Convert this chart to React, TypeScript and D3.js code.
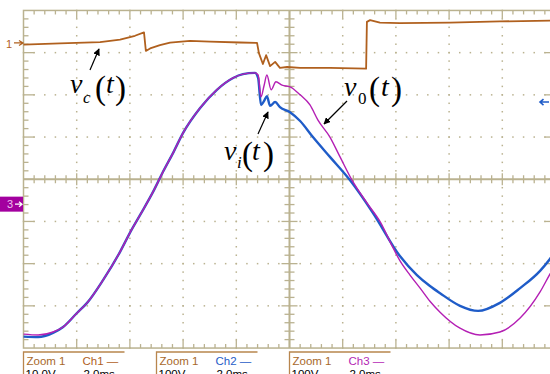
import * as d3 from "d3"
import { useEffect, useRef } from "react"

// Scope screen: 10 x 8 divisions, 2.0 ms/div. Traces are in screen divisions (+4 top, -4 bottom)
const timeDomain = [0, 20]
const divDomain = [-4, 4]

// Ch1 - v_c(t)
const vcTime = [0, 1.37, 2.88, 3.63, 4.19, 4.53, 4.6, 4.76, 5.13, 5.51, 6.26, 7.01, 8.14, 8.78, 8.85, 9.0, 9.12, 9.27, 9.46, 9.64, 9.91, 10.4, 11.52, 12.88, 12.91, 13.03, 13.4, 14.15, 16.03, 17.91, 20]
const vcDiv = [3.19, 3.22, 3.25, 3.31, 3.4, 3.48, 3.04, 3.1, 3.18, 3.24, 3.28, 3.26, 3.24, 3.23, 2.99, 2.73, 2.94, 2.68, 2.78, 2.64, 2.66, 2.64, 2.64, 2.62, 3.73, 3.77, 3.71, 3.7, 3.71, 3.74, 3.76]

// Ch2 - v_i(t)
const viTime = [0, 0.55, 1.11, 1.49, 2.01, 2.39, 2.99, 3.63, 4.0, 4.38, 4.87, 5.24, 5.62, 6.0, 6.64, 7.27, 7.88, 8.25, 8.7, 8.82, 8.93, 9.04, 9.15, 9.27, 9.46, 9.64, 10.02, 10.4, 10.88, 11.52, 12.27, 13.14, 14.15, 14.79, 15.28, 15.66, 16.41, 17.09, 17.91, 18.67, 19.42, 19.79, 20]
const viDiv = [-3.73, -3.74, -3.64, -3.5, -3.17, -2.93, -2.39, -1.72, -1.27, -0.85, -0.3, 0.17, 0.62, 1.1, 1.69, 2.12, 2.4, 2.49, 2.52, 2.4, 1.76, 1.85, 1.97, 1.74, 1.83, 1.71, 1.59, 1.38, 1.0, 0.53, -0.02, -0.8, -1.82, -2.27, -2.53, -2.7, -3.0, -3.12, -2.93, -2.58, -2.17, -1.89, -1.7]

// Ch3 - v_0(t)
const voTime = [0, 0.55, 1.11, 1.49, 2.01, 2.39, 2.99, 3.63, 4.0, 4.38, 4.87, 5.24, 5.62, 6.0, 6.64, 7.27, 7.88, 8.25, 8.7, 8.82, 8.93, 9.04, 9.15, 9.31, 9.49, 9.72, 10.02, 10.4, 10.77, 11.07, 11.52, 11.9, 12.35, 12.91, 13.4, 13.89, 14.15, 14.53, 14.91, 15.28, 15.66, 16.41, 17.16, 17.91, 18.67, 19.42, 19.79, 20]
const voDiv = [-3.67, -3.69, -3.62, -3.5, -3.17, -2.93, -2.39, -1.72, -1.27, -0.85, -0.3, 0.17, 0.62, 1.1, 1.69, 2.12, 2.4, 2.49, 2.52, 2.47, 1.95, 2.21, 2.47, 2.12, 2.31, 2.23, 2.19, 2.0, 1.76, 1.4, 1.0, 0.53, -0.02, -0.56, -1.0, -1.62, -1.93, -2.27, -2.58, -2.89, -3.15, -3.53, -3.69, -3.62, -3.29, -2.67, -2.25, -2.03]

// readout boxes under the screen
const readoutStart = [0, 5, 10] // ms
const readoutChannel = ["Ch1 —", "Ch2 —", "Ch3 —"]
const readoutVolts = ["10.0V", "100V", "100V"]
const readoutTime = ["2.0ms", "2.0ms", "2.0ms"]

const ch1Color = "#b0601e"
const ch2Color = "#1f5cc8"
const ch3Color = "#b41fb4"
const gridColor = "#bab290"

const App = () => {
  const svgRef = useRef<SVGSVGElement | null>(null)

  useEffect(() => {
    if (!svgRef.current) return
    const svg = d3.select(svgRef.current)
    svg.selectAll("*").remove()

    const left = 23.5
    const right = 555.5
    const top = 10.45
    const bottom = 348.05

    const x = d3.scaleLinear().domain(timeDomain).range([left, right])
    const y = d3.scaleLinear().domain(divDomain).range([bottom, top])

    svg.append("rect").attr("width", 550).attr("height", 374).attr("fill", "#fff")

    const defs = svg.append("defs")
    defs
      .append("marker")
      .attr("id", "head")
      .attr("viewBox", "0 0 10 10")
      .attr("refX", 9)
      .attr("refY", 5)
      .attr("markerWidth", 7)
      .attr("markerHeight", 7)
      .attr("markerUnits", "userSpaceOnUse")
      .attr("orient", "auto")
      .append("path")
      .attr("d", "M0,0 L10,5 L0,10 Z")
      .attr("fill", "#000")

    const grid = svg.append("g")

    // dotted graticule
    const majorT = [2, 4, 6, 8, 12, 14, 16, 18]
    const majorD = [-3, -2, -1, 1, 2, 3]
    const minorT = d3.range(0, 20.001, 0.4)
    const minorD = d3.range(-4, 4.001, 0.2)

    grid
      .selectAll(".vdot")
      .data(d3.cross(majorT, minorD))
      .enter()
      .append("rect")
      .attr("x", d => x(d[0]) - 0.75)
      .attr("y", d => y(d[1]) - 0.75)
      .attr("width", 1.5)
      .attr("height", 1.5)
      .attr("fill", gridColor)

    grid
      .selectAll(".hdot")
      .data(d3.cross(minorT, majorD))
      .enter()
      .append("rect")
      .attr("x", d => x(d[0]) - 0.75)
      .attr("y", d => y(d[1]) - 0.75)
      .attr("width", 1.5)
      .attr("height", 1.5)
      .attr("fill", gridColor)

    // border
    grid
      .append("rect")
      .attr("x", left)
      .attr("y", top)
      .attr("width", right - left)
      .attr("height", bottom - top)
      .attr("fill", "none")
      .attr("stroke", gridColor)
      .attr("stroke-width", 1.5)

    const isMajorT = (t: number) => Math.abs(t / 2 - Math.round(t / 2)) < 0.01
    const isMajorD = (d: number) => Math.abs(d - Math.round(d)) < 0.01

    const ticks = grid.append("g").attr("stroke", gridColor).attr("stroke-width", 1.3)

    // top / bottom border ticks + centre horizontal axis ticks
    minorT.slice(1, -1).forEach(t => {
      const len = isMajorT(t) ? 8 : 4
      ticks.append("line").attr("x1", x(t)).attr("x2", x(t)).attr("y1", top).attr("y2", top + len)
      ticks.append("line").attr("x1", x(t)).attr("x2", x(t)).attr("y1", bottom).attr("y2", bottom - len)
      const c = isMajorT(t) ? 6 : 4
      ticks.append("line").attr("x1", x(t)).attr("x2", x(t)).attr("y1", y(0) - c).attr("y2", y(0) + c)
    })

    // left / right border ticks + centre vertical axis ticks
    minorD.slice(1, -1).forEach(d => {
      const len = isMajorD(d) ? 11 : 5
      ticks.append("line").attr("x1", left).attr("x2", left + len).attr("y1", y(d)).attr("y2", y(d))
      ticks.append("line").attr("x1", right).attr("x2", right - len).attr("y1", y(d)).attr("y2", y(d))
      const c = isMajorD(d) ? 8 : 5
      ticks.append("line").attr("x1", x(10) - c).attr("x2", x(10) + c).attr("y1", y(d)).attr("y2", y(d))
    })

    // centre axes
    grid
      .append("line")
      .attr("x1", left)
      .attr("x2", right)
      .attr("y1", y(0))
      .attr("y2", y(0))
      .attr("stroke", gridColor)
      .attr("stroke-width", 2)
    grid
      .append("line")
      .attr("x1", x(10))
      .attr("x2", x(10))
      .attr("y1", top)
      .attr("y2", bottom)
      .attr("stroke", gridColor)
      .attr("stroke-width", 2)

    // traces
    const trace = (time: number[], vals: number[], color: string, width: number, curve: d3.CurveFactory) => {
      const line = d3
        .line<number>()
        .x((_d, i) => x(time[i]))
        .y(d => y(d))
        .curve(curve)
      svg
        .append("path")
        .attr("d", line(vals) || "")
        .attr("fill", "none")
        .attr("stroke", color)
        .attr("stroke-width", width)
        .attr("stroke-linejoin", "round")
    }

    trace(viTime, viDiv, ch2Color, 2.4, d3.curveMonotoneX)
    trace(voTime, voDiv, ch3Color, 1.4, d3.curveMonotoneX)
    trace(vcTime, vcDiv, ch1Color, 1.8, d3.curveLinear)

    // channel markers
    svg
      .append("text")
      .attr("x", 6)
      .attr("y", 48)
      .attr("fill", ch1Color)
      .style("font-family", "Liberation Sans, Arial, sans-serif")
      .style("font-size", "11px")
      .text("1")
    svg
      .append("path")
      .attr("d", `M14,${y(3.23)} L22,${y(3.23)} M19,${y(3.23) - 2.5} L23,${y(3.23)} L19,${y(3.23) + 2.5}`)
      .attr("stroke", ch1Color)
      .attr("stroke-width", 1.3)
      .attr("fill", "none")

    const m3 = y(-0.59)
    svg.append("rect").attr("x", 0).attr("y", m3 - 7.5).attr("width", 23).attr("height", 15).attr("fill", "#a3009f")
    svg
      .append("text")
      .attr("x", 7)
      .attr("y", m3 + 4)
      .attr("fill", "#f0c0f0")
      .style("font-family", "Liberation Sans, Arial, sans-serif")
      .style("font-size", "11px")
      .text("3")
    svg
      .append("path")
      .attr("d", `M15,${m3} L22,${m3} M19,${m3 - 2.5} L22,${m3} L19,${m3 + 2.5}`)
      .attr("stroke", "#ffffff")
      .attr("stroke-width", 1.3)
      .attr("fill", "none")

    const trig = y(1.83)
    svg
      .append("path")
      .attr("d", `M549,${trig} L540,${trig} M543.5,${trig - 3} L540,${trig} L543.5,${trig + 3}`)
      .attr("stroke", ch2Color)
      .attr("stroke-width", 1.6)
      .attr("fill", "none")

    // math labels
    const label = (
      parts: { t: string; x: number; y: number; size: number; italic: boolean }[]
    ) => {
      const g = svg.append("g").style("font-family", "Liberation Serif, Times New Roman, serif").attr("fill", "#000")
      parts.forEach(p => {
        g.append("text")
          .attr("x", p.x)
          .attr("y", p.y)
          .style("font-size", `${p.size}px`)
          .style("font-style", p.italic ? "italic" : "normal")
          .text(p.t)
      })
    }

    label([
      { t: "v", x: 70, y: 93, size: 28, italic: true },
      { t: "c", x: 83, y: 103, size: 17, italic: true },
      { t: "(", x: 95, y: 99, size: 33, italic: false },
      { t: "t", x: 106, y: 93, size: 28, italic: true },
      { t: ")", x: 115, y: 99, size: 33, italic: false }
    ])
    label([
      { t: "v", x: 344, y: 96, size: 28, italic: true },
      { t: "0", x: 358, y: 104, size: 17, italic: false },
      { t: "(", x: 369, y: 100, size: 33, italic: false },
      { t: "t", x: 381, y: 96, size: 28, italic: true },
      { t: ")", x: 391, y: 100, size: 33, italic: false }
    ])
    label([
      { t: "v", x: 224, y: 160, size: 28, italic: true },
      { t: "i", x: 237, y: 168, size: 17, italic: true },
      { t: "(", x: 242, y: 165, size: 33, italic: false },
      { t: "t", x: 252, y: 160, size: 28, italic: true },
      { t: ")", x: 263, y: 165, size: 33, italic: false }
    ])

    const arrows = [
      [90, 70, 99, 49],
      [347, 101, 324, 124],
      [258, 134, 268, 112]
    ]
    arrows.forEach(a => {
      svg
        .append("line")
        .attr("x1", a[0])
        .attr("y1", a[1])
        .attr("x2", a[2])
        .attr("y2", a[3])
        .attr("stroke", "#000")
        .attr("stroke-width", 1.2)
        .attr("marker-end", "url(#head)")
    })

    // readout boxes (second row is cut by the bottom edge, as on the scope capture)
    const readout = svg.append("g").style("font-family", "Liberation Sans, Arial, sans-serif").style("font-size", "11.5px")
    const chColors = [ch1Color, ch2Color, ch3Color]
    readoutStart.forEach((t, i) => {
      const bx = x(t)
      readout
        .append("path")
        .attr("d", `M${bx},374 L${bx},352 L${bx + 101},352`)
        .attr("fill", "none")
        .attr("stroke", "#b8864e")
        .attr("stroke-width", 1.3)
      readout.append("text").attr("x", bx + 3).attr("y", 365).attr("fill", "#a8682a").text("Zoom 1")
      readout.append("text").attr("x", bx + 59).attr("y", 365).attr("fill", chColors[i]).text(readoutChannel[i])
      readout.append("text").attr("x", bx + 2).attr("y", 378).attr("fill", "#000").text(readoutVolts[i])
      readout.append("text").attr("x", bx + 60).attr("y", 378).attr("fill", "#000").text(readoutTime[i])
    })
  }, [])

  return (
    <svg
      ref={svgRef}
      width={550}
      height={374}
      style={{ position: "absolute", left: 0, top: 0 }}
    />
  )
}

export default App
